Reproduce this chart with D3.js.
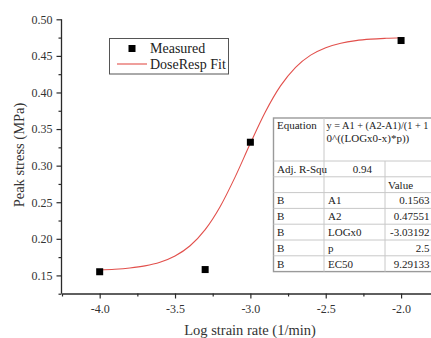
<!DOCTYPE html>
<html><head><meta charset="utf-8">
<script src="https://cdn.jsdelivr.net/npm/d3@7"></script>
<style>
html,body{margin:0;padding:0;background:#fff;overflow:hidden}
svg{display:block}
text{font-family:"Liberation Serif","Times New Roman",serif}
</style></head>
<body>
<svg id="c" width="431" height="338"></svg>
<script>
// ---- data ----
const measuredX = [-4.0, -3.3, -3.0, -2.0];
const measuredY = [0.155, 0.158, 0.332, 0.471];
const fitX = [-4.0,-3.9,-3.8,-3.7,-3.6,-3.5,-3.4,-3.3,-3.2,-3.1,-3.0,-2.9,-2.8,-2.7,-2.6,-2.5,-2.4,-2.3,-2.2,-2.1,-2.0];
const fitY = [0.1575,0.1584,0.1601,0.1630,0.1680,0.1765,0.1905,0.2125,0.2442,0.2850,0.3305,0.3737,0.4090,0.4344,0.4510,0.4612,0.4673,0.4709,0.4729,0.4740,0.4747];
const xTicks = [-4.0,-3.5,-3.0,-2.5,-2.0];
const xTickLabels = ["-4.0","-3.5","-3.0","-2.5","-2.0"];
const xMinorTicks = [-4.25,-3.75,-3.25,-2.75,-2.25,-1.75];
const yTicks = [0.15,0.20,0.25,0.30,0.35,0.40,0.45,0.50];
const yTickLabels = ["0.15","0.20","0.25","0.30","0.35","0.40","0.45","0.50"];
const yMinorTicks = [0.125,0.175,0.225,0.275,0.325,0.375,0.425,0.475];
const legendLabels = ["Measured","DoseResp Fit"];
const tableRows = [
  ["Adj. R-Squ","0.94",""],
  ["","","Value"],
  ["B","A1","0.1563"],
  ["B","A2","0.47551"],
  ["B","LOGx0","-3.03192"],
  ["B","p","2.5"],
  ["B","EC50","9.29133"]
];
const equationLines = ["y = A1 + (A2-A1)/(1 + 1","0^((LOGx0-x)*p))"];

// ---- drawing ----
const FONT = "'Liberation Serif', 'Times New Roman', serif";
const svg = d3.select("#c");
const x = d3.scaleLinear().domain([-4.25,-1.75]).range([62, 438.75]);
const y = d3.scaleLinear().domain([0.125,0.5]).range([293.7, 19.3]);
const ink = "#2a2a2a";

// axes
const yAxisG = svg.append("g").attr("transform","translate(61.5,0)");
yAxisG.call(d3.axisLeft(y).tickValues(yTicks).tickFormat((d,i)=>yTickLabels[i]).tickSize(5).tickSizeOuter(0).tickPadding(4));
const yMin = svg.append("g").attr("transform","translate(61.5,0)");
yMin.call(d3.axisLeft(y).tickValues(yMinorTicks).tickFormat("").tickSize(3).tickSizeOuter(0));
yMin.select(".domain").remove();

const xAxisG = svg.append("g").attr("transform","translate(0,293.5)");
xAxisG.call(d3.axisBottom(x).tickValues(xTicks).tickFormat((d,i)=>xTickLabels[i]).tickSize(5).tickSizeOuter(0).tickPadding(6));
const xMin = svg.append("g").attr("transform","translate(0,293.5)");
xMin.call(d3.axisBottom(x).tickValues(xMinorTicks).tickFormat("").tickSize(3).tickSizeOuter(0));
xMin.select(".domain").remove();

[yAxisG,xAxisG,yMin,xMin].forEach(g=>g.attr("font-family",FONT).attr("font-size",12));
svg.selectAll(".domain").attr("stroke",ink).attr("stroke-width",1.3);
svg.selectAll(".tick line").attr("stroke",ink).attr("stroke-width",1.2);
svg.selectAll(".tick text").attr("fill","#333").style("font-size","12px").style("font-family",FONT);
yAxisG.select(".domain").attr("d", `M0,${y(0.5)}V${y(0.125)}`);

// axis titles
svg.append("text").attr("transform","translate(23.5,155) rotate(-90)").attr("text-anchor","middle")
  .attr("fill","#333").style("font-size","14.5px").text("Peak stress (MPa)");
svg.append("text").attr("x",250).attr("y",334.5).attr("text-anchor","middle")
  .attr("fill","#333").style("font-size","14.5px").text("Log strain rate (1/min)");

// fit curve
const fitData = fitX.map((d,i)=>[d,fitY[i]]);
svg.append("path").datum(fitData)
  .attr("fill","none").attr("stroke","#e2504c").attr("stroke-width",1.1)
  .attr("d", d3.line().x(d=>x(d[0])).y(d=>y(d[1])).curve(d3.curveMonotoneX));

// table
const tL = 273.5, tT = 118, c1 = 324, c2 = 385, tR = 470;
const eqBottom = 161, rowH = 15.8;
const tg = svg.append("g").attr("font-family",FONT);
const nRows = tableRows.length;
const tB = eqBottom + nRows*rowH;
tg.append("rect").attr("x",tL).attr("y",tT).attr("width",tR-tL).attr("height",tB-tT)
  .attr("fill","#fff").attr("stroke","#9a9a9a").attr("stroke-width",1.4);
for(let i=0;i<nRows;i++){
  const yy = eqBottom + i*rowH;
  tg.append("line").attr("x1",tL).attr("x2",tR).attr("y1",yy).attr("y2",yy).attr("stroke","#c8c8c8").attr("stroke-width",1);
}
tg.append("line").attr("x1",c1).attr("x2",c1).attr("y1",tT).attr("y2",tB).attr("stroke","#c8c8c8");
tg.append("line").attr("x1",c2).attr("x2",c2).attr("y1",eqBottom).attr("y2",tB).attr("stroke","#c8c8c8");
const tfs = "11px";
tg.append("text").attr("x",tL+3.5).attr("y",129).attr("fill","#222").style("font-size",tfs).text("Equation");
equationLines.forEach((s,i)=>{
  tg.append("text").attr("x",c1+2.5).attr("y",129+12.5*i).attr("fill","#222").style("font-size",tfs)
    .attr("textLength", i===0 ? 102 : null).attr("lengthAdjust","spacingAndGlyphs").text(s);
});
tableRows.forEach((r,i)=>{
  const by = eqBottom + i*rowH + 11.8;
  tg.append("text").attr("x",tL+3.5).attr("y",by).attr("fill","#222").style("font-size",tfs).text(r[0]);
  if(i===0){
    tg.append("text").attr("x",c2-13).attr("y",by).attr("text-anchor","end").attr("fill","#222").style("font-size",tfs).text(r[1]);
  } else {
    tg.append("text").attr("x",c1+4).attr("y",by).attr("fill","#222").style("font-size",tfs).text(r[1]);
  }
  if(r[2]==="Value"){
    tg.append("text").attr("x",c2+3).attr("y",by).attr("fill","#222").style("font-size",tfs).text(r[2]);
  } else if(r[2]!==""){
    tg.append("text").attr("x",429.5).attr("y",by).attr("text-anchor","end").attr("fill","#222").style("font-size",tfs).text(r[2]);
  }
});

// measured points
svg.selectAll("rect.pt").data(measuredX.map((d,i)=>[d,measuredY[i]])).enter()
  .append("rect").attr("class","pt")
  .attr("x",d=>x(d[0])-3.5).attr("y",d=>y(d[1])-3.5).attr("width",7).attr("height",7).attr("fill","#000");

// legend
const lg = svg.append("g").attr("font-family",FONT);
lg.append("rect").attr("x",109.5).attr("y",38.5).attr("width",119).attr("height",35.5)
  .attr("fill","#fff").attr("stroke","#555").attr("stroke-width",1);
lg.append("rect").attr("x",128.5).attr("y",45).attr("width",7).attr("height",7).attr("fill","#000");
lg.append("line").attr("x1",117).attr("x2",147).attr("y1",64).attr("y2",64).attr("stroke","#e2504c").attr("stroke-width",1.1);
lg.append("text").attr("x",150).attr("y",53).attr("fill","#222").style("font-size","14px").text(legendLabels[0]);
lg.append("text").attr("x",150).attr("y",69).attr("fill","#222").style("font-size","14px").text(legendLabels[1]);
</script>
</body></html>
